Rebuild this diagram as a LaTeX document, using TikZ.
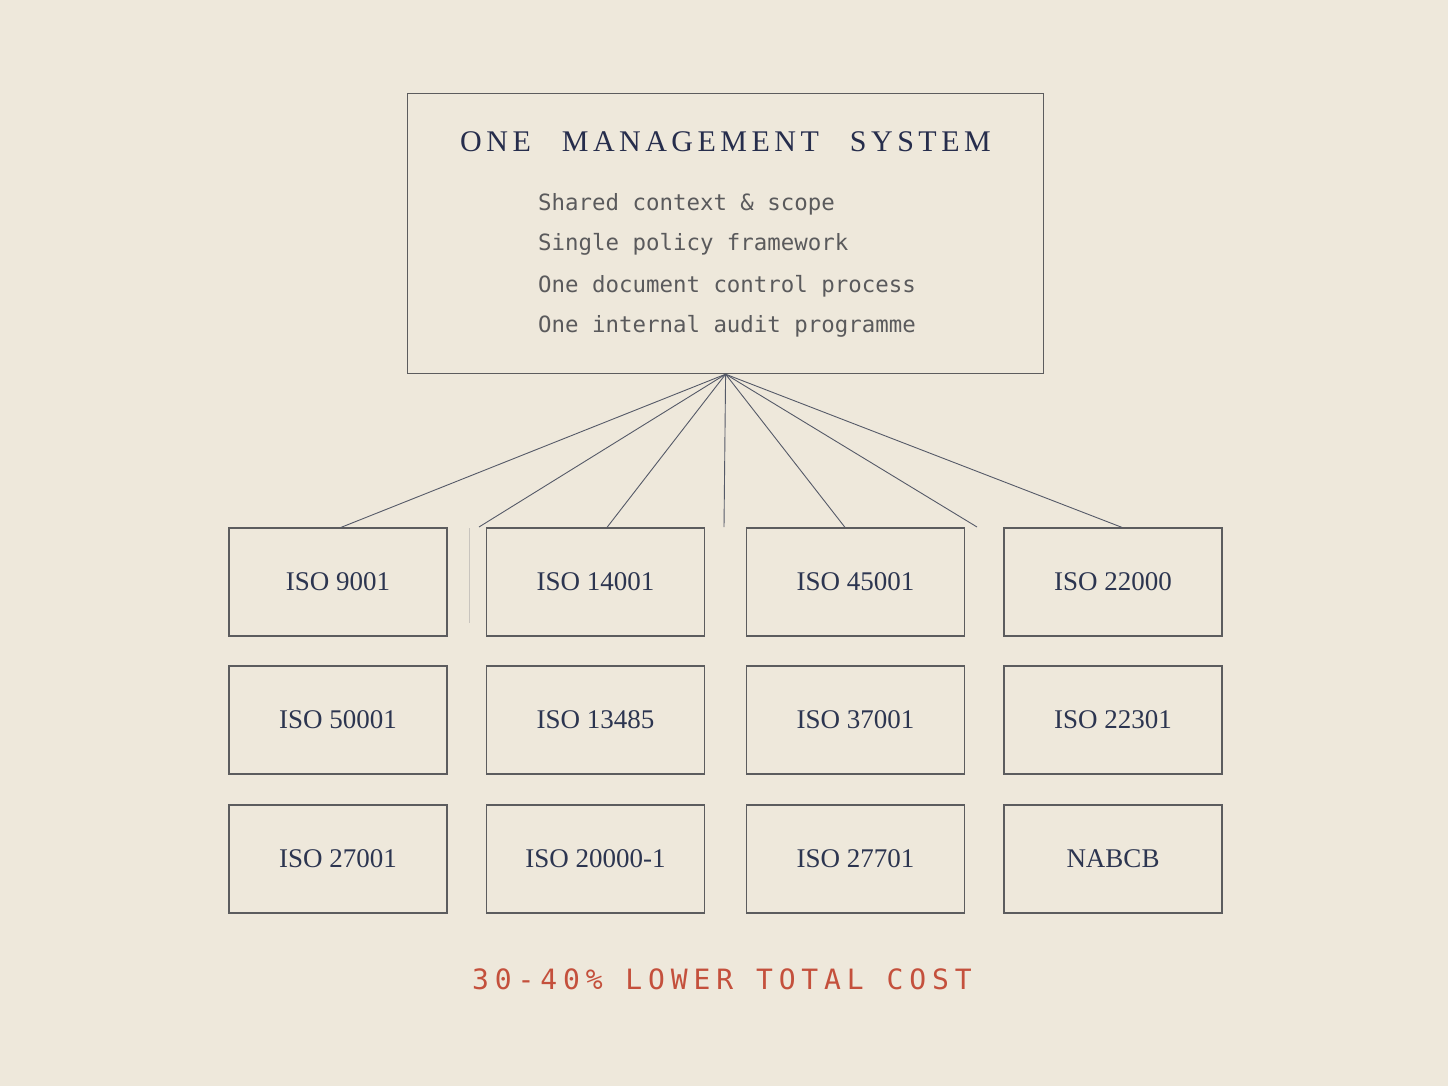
\documentclass[tikz,border=0pt]{standalone}
\usepackage{fontspec}
\setmainfont{Liberation Serif}
\newfontfamily\titlefont[LetterSpace=15]{Liberation Serif}
\newfontfamily\listfont{DejaVu Sans Mono}
\newfontfamily\costfont[LetterSpace=21]{DejaVu Sans Mono}
\usetikzlibrary{calc}
\definecolor{bg}{HTML}{EEE8DB}
\definecolor{navy}{HTML}{262D4C}
\definecolor{labelnavy}{HTML}{2C3550}
\definecolor{listgray}{HTML}{5A5A5C}
\definecolor{edge}{HTML}{5C5C5E}
\definecolor{wire}{HTML}{555A68}
\definecolor{costred}{HTML}{C4503C}
\tikzset{
  isobox/.style={draw=edge, line width=1.2pt, minimum width=218pt, minimum height=108pt,
    inner sep=0pt, text=labelnavy, font=\fontsize{27}{32}\selectfont},
  listline/.style={anchor=base west, inner sep=0pt, text=listgray, font=\listfont\fontsize{22.4}{26}\selectfont},
  wireline/.style={draw=wire, line width=0.9pt}
}
\begin{document}
\begin{tikzpicture}[x=1pt,y=-1pt]
\fill[bg] (0,0) rectangle (1448,1086);
\useasboundingbox (0,0) rectangle (1448,1086);

\node[draw=edge, line width=1.2pt, minimum width=636pt, minimum height=280pt, inner sep=0pt, anchor=north west] (ms) at (407,93) {};
\node[anchor=base west, inner sep=0pt, text=navy, font=\titlefont\fontsize{30}{36}\selectfont] (title) at (460,152) {ONE\hspace*{31pt}MANAGEMENT\hspace*{31pt}SYSTEM};
\node[listline] (l1) at (538,211) {Shared context \& scope};
\node[listline] (l2) at (538,251) {Single policy framework};
\node[listline] (l3) at (538,292) {One document control process};
\node[listline] (l4) at (538,332) {One internal audit programme};

\node[isobox] (b11) at (338,582) {ISO 9001};
\node[isobox] (b12) at (595.5,582) {ISO 14001};
\node[isobox] (b13) at (855.5,582) {ISO 45001};
\node[isobox] (b14) at (1113,582) {ISO 22000};
\node[isobox] (b21) at (338,720) {ISO 50001};
\node[isobox] (b22) at (595.5,720) {ISO 13485};
\node[isobox] (b23) at (855.5,720) {ISO 37001};
\node[isobox] (b24) at (1113,720) {ISO 22301};
\node[isobox] (b31) at (338,859) {ISO 27001};
\node[isobox] (b32) at (595.5,859) {ISO 20000-1};
\node[isobox] (b33) at (855.5,859) {ISO 27701};
\node[isobox] (b34) at (1113,859) {NABCB};

\coordinate (g1) at (479,527);
\coordinate (g2) at (724,527);
\coordinate (g3) at (977,527);
\coordinate (v1) at (469,528);
\coordinate (v2) at (469,623);

\draw[wireline] (ms.south) -- ($(b11.north)+(3,0)$);
\draw[wireline] (ms.south) -- (g1);
\draw[wireline] (ms.south) -- ($(b12.north)+(11.5,0)$);
\draw[wireline] (ms.south) -- (g2);
\draw[wireline] (ms.south) -- ($(b13.north)+(-10.5,0)$);
\draw[wireline] (ms.south) -- (g3);
\draw[wireline] (ms.south) -- ($(b14.north)+(9,0)$);
\draw[draw=wire!25!bg, line width=0.8pt] (v1) -- (v2);

\node[anchor=base west, inner sep=0pt, text=costred, font=\costfont\fontsize{28}{32}\selectfont] (cost) at (472,989) {30-40\% LOWER TOTAL COST};
\end{tikzpicture}
\end{document}
